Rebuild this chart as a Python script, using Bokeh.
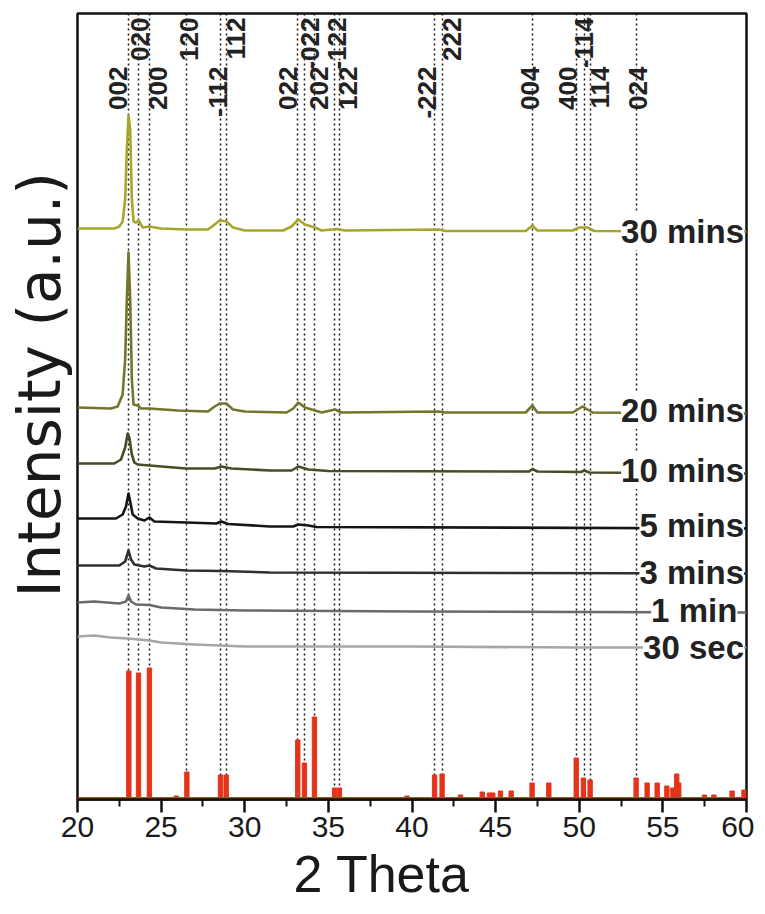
import math
from bokeh.plotting import figure
from bokeh.models import Label, FixedTicker, Range1d, Title
from bokeh.core.properties import value
from bokeh.embed import file_html
from bokeh.resources import INLINE

# ---------------- data ----------------
x_ticks = [20, 25, 30, 35, 40, 45, 50, 55, 60]
x_minor = [22.5, 27.5, 32.5, 37.5, 42.5, 47.5, 52.5, 57.5]

# measured patterns (2theta, intensity a.u. incl. stacking offset)
x_30min = [20, 22.2, 22.5, 22.7, 22.85, 22.95, 23.05, 23.15, 23.25, 23.35, 23.5, 23.65, 23.9, 24.3, 25, 26.5,
           27.8, 28.2, 28.5, 28.9, 29.3, 30, 32.3, 32.8, 33.2, 33.6, 34.2, 34.6, 35.5, 36, 41.6, 42, 46.8,
           47.2, 47.5, 49.6, 50.0, 50.5, 50.9, 60]
y_30min = [571, 571, 573, 578, 600, 650, 684, 670, 600, 578, 577, 579, 572, 573, 571, 570,
           570, 575, 579, 578, 572, 569, 569, 573, 580, 575, 572, 569, 570.5, 569, 570, 568.5, 568.5,
           574, 569, 569, 572, 572, 568.5, 568]

x_20min = [20, 22.0, 22.4, 22.7, 22.85, 22.95, 23.05, 23.15, 23.25, 23.35, 23.6, 23.8, 24.3, 26, 27.8,
           28.2, 28.5, 28.9, 29.3, 30, 32.5, 32.9, 33.2, 33.6, 34.2, 34.6, 35.4, 35.8, 41.6, 42, 46.8,
           47.2, 47.5, 49.6, 50.2, 50.8, 60]
y_20min = [392, 391, 393, 405, 440, 500, 547, 500, 420, 395, 394, 391, 391, 389, 388,
           393, 396, 396, 390, 388, 387, 391, 397, 392, 389, 387, 390, 387, 388, 387, 387,
           394, 387, 387, 393, 387, 386]

x_10min = [20, 22.2, 22.6, 22.85, 23.0, 23.1, 23.25, 23.4, 23.6, 24.3, 26.5, 28.2, 28.6, 29.2, 31.5,
           32.8, 33.2, 33.8, 35, 47.0, 47.2, 47.5, 50.1, 50.3, 50.6, 60]
y_10min = [336, 336, 340, 352, 366, 362, 345, 337, 335, 334, 331, 331, 333, 331, 329,
           329, 333, 330, 328.5, 328, 330.5, 328, 327.5, 329, 327, 326]

x_5min = [20, 22.3, 22.7, 22.9, 23.05, 23.15, 23.3, 23.6, 24.0, 24.3, 24.6, 26.5, 28.3, 28.6, 29,
          31.5, 32.9, 33.2, 33.8, 34.3, 60]
y_5min = [281, 281, 285, 293, 306, 298, 285, 281, 279, 282, 278, 277, 276, 278, 275.5,
          273, 273, 275, 274, 272.5, 271]

x_3min = [20, 22.5, 22.85, 23.05, 23.2, 23.4, 24.0, 24.3, 24.7, 26.5, 28.6, 31.5, 60]
y_3min = [234, 234, 238, 249, 240, 235, 233, 234, 231, 229, 228.5, 227, 226]

x_1min = [20, 21, 22.5, 22.9, 23.05, 23.2, 23.5, 24.3, 25, 27, 30, 40, 60]
y_1min = [197, 198, 196, 198, 204, 198, 195, 194.5, 192, 190, 189, 188, 187]

x_30sec = [20, 21, 22, 23, 24.3, 25, 27, 30, 40, 50, 60]
y_30sec = [163, 164, 162, 161, 159, 157, 155, 153, 153, 152, 152]

series_names = ["30 mins", "20 mins", "10 mins", "5 mins", "3 mins", "1 min", "30 sec"]
series_colors = ["#A6A62C", "#74742A", "#4B4B26", "#151515", "#303030", "#6A6A6A", "#A6A6A6"]
label_x = [59.85, 59.85, 59.85, 59.85, 59.85, 59.45, 59.85]
label_y = [568, 389, 329, 274, 227, 189, 152]

# reference pattern (red)
ref_base = 1.5
ref_x = [23.07, 23.65, 24.3, 25.9, 26.54, 28.55, 28.89, 33.17, 33.57, 34.17, 35.37, 35.66, 39.7,
         41.35, 41.8, 42.9, 44.2, 44.63, 44.83, 45.29, 45.93, 47.18, 48.18, 49.82, 50.25, 50.65,
         53.4, 54.06, 54.66, 55.24, 55.6, 55.83, 55.95, 57.49, 58.05, 59.14, 59.85]
ref_h = [127, 125, 130, 2, 26, 23, 23, 58, 35, 81, 10, 10, 2,
         23, 24, 3, 6, 5, 5, 7, 7, 15, 15, 40, 20, 18,
         20, 15, 15, 12, 10, 24, 15, 3, 3, 7, 8]

# hkl indexing
hkl_x = [23.07, 23.65, 24.3, 26.54, 28.55, 28.89, 33.17, 33.57, 34.17, 35.37, 35.66,
         41.35, 41.8, 47.23, 49.82, 50.3, 50.65, 53.4]
hkl_text = ["002", "020", "200", "120", "-112", "112", "022", "-022", "202", "-122", "122",
            "-222", "222", "004", "400", "-114", "114", "024"]
hkl_text_x = [22.45, 23.74, 24.79, 26.67, 28.38, 29.49, 32.57, 33.91, 34.42, 35.5, 36.16,
              40.9, 42.39, 47.08, 49.35, 50.31, 51.27, 53.54]
hkl_level = [733, 782, 733, 782, 733, 782, 733, 782, 733, 782, 733,
             733, 782, 733, 733, 782, 733, 733]

FONT = "Liberation Sans"

# ---------------- figure ----------------
p = figure(frame_width=669, frame_height=786, x_range=Range1d(20, 60), y_range=Range1d(0, 786),
           output_backend="svg", toolbar_location=None,
           min_border_left=77, min_border_right=8, min_border_top=13, min_border_bottom=105)
p.background_fill_color = "white"
p.border_fill_color = "white"
p.xgrid.visible = False
p.ygrid.visible = False
p.yaxis.visible = False
p.outline_line_color = "#111111"
p.outline_line_width = 2.5
p.outline_line_alpha = 1.0

ax = p.xaxis[0]
ax.ticker = FixedTicker(ticks=x_ticks, minor_ticks=x_minor)
ax.axis_line_color = "#111111"
ax.axis_line_width = 2.5
ax.major_tick_line_color = "#111111"
ax.major_tick_line_width = 2.5
ax.minor_tick_line_color = "#111111"
ax.minor_tick_line_width = 2
ax.major_tick_in = 0
ax.major_tick_out = 13
ax.minor_tick_in = 0
ax.minor_tick_out = 7
ax.major_label_text_font = FONT
ax.major_label_text_font_size = "30px"
ax.major_label_text_color = "#1a1a1a"
ax.major_label_standoff = 4

# hkl dotted lines
p.vspan(x=hkl_x, line_color="#1a1a1a", line_width=1.5, line_dash="2 3")

# reference pattern
p.hspan(y=[ref_base], line_color="#E5331B", line_width=3)
p.vbar(x=ref_x, bottom=ref_base, top=[ref_base + h for h in ref_h], width=0.26,
       fill_color="#E5331B", line_color="#E5331B", line_width=1)

# measured patterns
xs_all = [x_30min, x_20min, x_10min, x_5min, x_3min, x_1min, x_30sec]
ys_all = [y_30min, y_20min, y_10min, y_5min, y_3min, y_1min, y_30sec]
for xs, ys, c in zip(xs_all, ys_all, series_colors):
    p.line(xs, ys, line_color=c, line_width=2.6, line_join="round")

# hkl labels
p.text(x=hkl_text_x, y=hkl_level, text=hkl_text, angle=math.pi / 2,
       text_align="right", text_baseline="middle",
       text_font=value(FONT), text_font_style="bold", text_font_size="26px", text_color="#222222")

# curve labels
for name, lx, ly in zip(series_names, label_x, label_y):
    p.add_layout(Label(x=lx, y=ly, text=name, text_align="right", text_baseline="middle",
                       text_font=FONT, text_font_style="bold", text_font_size="33px",
                       text_color="#222222", background_fill_color="white"))

# axis titles
p.add_layout(Title(text="Intensity (a.u.)", align="left", offset=202, standoff=7,
                   text_font="DejaVu Sans", text_font_size="58px", text_font_style="normal",
                   text_color="#1a1a1a"), "left")
p.add_layout(Title(text="2 Theta", align="left", offset=216, standoff=7,
                   text_font=FONT, text_font_size="52px", text_font_style="normal",
                   text_color="#1a1a1a"), "below")

open("out.html", "w").write(file_html(p, INLINE))
